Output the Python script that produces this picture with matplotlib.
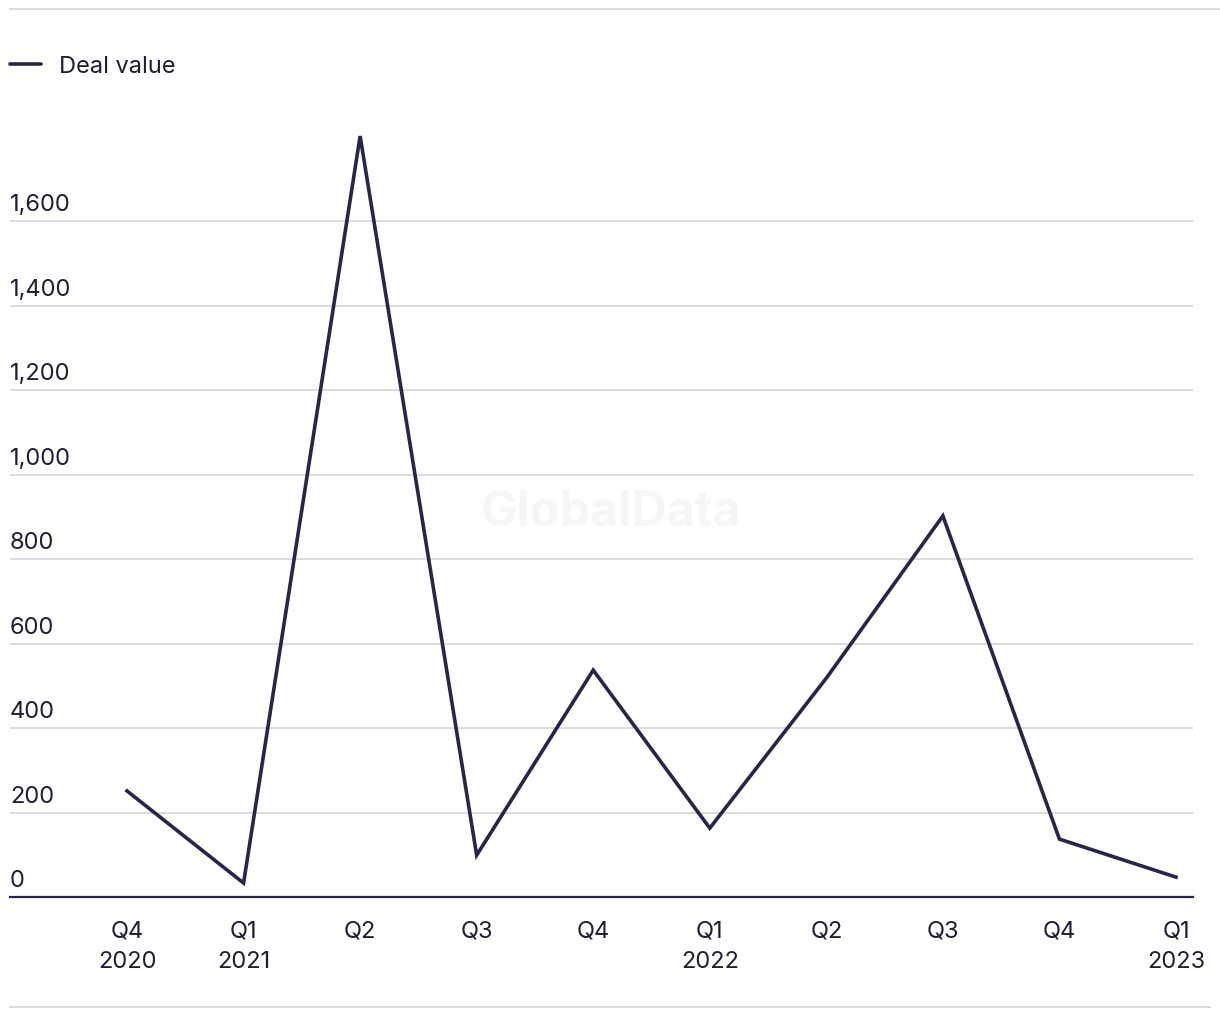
import matplotlib
matplotlib.use("Agg")
import matplotlib.pyplot as plt
from matplotlib.lines import Line2D

plt.rcParams['font.family'] = ['Inter', 'DejaVu Sans']

quarters = ["Q4\n2020", "Q1\n2021", "Q2", "Q3", "Q4", "Q1\n2022", "Q2", "Q3", "Q4", "Q1\n2023"]
deal_value = [251, 33, 1801, 99, 537, 163, 518, 902, 137, 47]
y_ticks = [0, 200, 400, 600, 800, 1000, 1200, 1400, 1600]
y_tick_labels = ["0", "200", "400", "600", "800", "1,000", "1,200", "1,400", "1,600"]

LINE = "#26254a"
GRID = "#dcdcdc"
TEXT = "#1f1f33"

W, H = 1220, 1020
fig = plt.figure(figsize=(W / 100, H / 100), dpi=100)

ymax = 1850
px_per_unit = 0.4225
ax_bottom_px = 898
ax_h_px = ymax * px_per_unit
ax_left_px, ax_right_px = 10, 1193
ax = fig.add_axes([ax_left_px / W, (H - ax_bottom_px) / H,
                   (ax_right_px - ax_left_px) / W, ax_h_px / H])

x = list(range(len(deal_value)))
ax.plot(x, deal_value, color=LINE, lw=2.6, solid_joinstyle='miter', zorder=3)

ax.set_xlim(-1.004, 9.146)
ax.set_ylim(0, ymax)

for s in ax.spines.values():
    s.set_visible(False)
ax.axhline(0, color=LINE, lw=1.6, zorder=4, clip_on=False)
for v in y_ticks[1:]:
    ax.axhline(v, color=GRID, lw=1.4, zorder=1)

ax.set_yticks([])
ax.set_xticks(x)
ax.set_xticklabels(quarters, fontsize=17, color=TEXT, linespacing=1.5, va='top')
ax.tick_params(axis='x', length=0, pad=16)

for v, lab in zip(y_ticks, y_tick_labels):
    ax.annotate(lab, xy=(0, v), xycoords=('axes fraction', 'data'),
                xytext=(0, 4), textcoords='offset points',
                ha='left', va='bottom', fontsize=17, color=TEXT)

# watermark
fig.text(611 / W, 1 - 512 / H, "GlobalData", ha='center', va='center',
         fontsize=35, fontweight='bold', color='#f6f6f6', zorder=0)

# legend
fig.add_artist(Line2D([10 / W, 41 / W], [1 - 65 / H, 1 - 65 / H], color=LINE, lw=2.6,
                      solid_capstyle='round'))
fig.text(59 / W, 1 - 67 / H, "Deal value", ha='left', va='center', fontsize=17, color=TEXT)

# frame lines
fig.add_artist(Line2D([10 / W, 1.0], [1 - 10 / H, 1 - 10 / H], color=GRID, lw=1.4))
fig.add_artist(Line2D([10 / W, 1210 / W], [1 - 1008 / H, 1 - 1008 / H], color=GRID, lw=1.4))

fig.savefig("out.png", dpi=100, facecolor='white')
